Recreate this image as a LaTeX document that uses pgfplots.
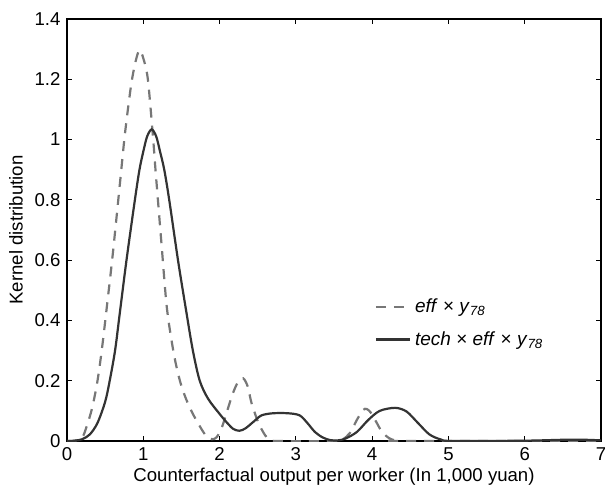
\documentclass[border=0pt]{standalone}
\usepackage{pgfplots}
\pgfplotsset{compat=1.18}
\usepackage{fontspec}
\setmainfont{Liberation Sans}
\definecolor{dashgray}{HTML}{777777}
\definecolor{solidgray}{HTML}{333333}
\begin{document}
\fontsize{9.3}{11}\selectfont
\begin{tikzpicture}
\begin{axis}[
  scale only axis,
  width=267pt, height=211pt,
  xmin=0, xmax=7, ymin=0, ymax=1.4,
  xtick={0,1,...,7}, ytick={0,0.2,...,1.4},
  yticklabels={0,0.2,0.4,0.6,0.8,1,1.2,1.4},
  tick align=inside, major tick length=2.5pt,
  tick style={line width=0.6pt, color=black},
  axis line style={line width=0.6pt},
  /pgf/number format/assume math mode=true,
  tick label style={font=\fontsize{9.3}{11}\selectfont},
  label style={font=\fontsize{9.3}{11}\selectfont},
  xlabel={Counterfactual output per worker (In 1,000 yuan)},
  ylabel={Kernel distribution},
  xlabel style={at={(axis description cs:0.5,-0.0853)}, anchor=center},
  ylabel style={at={(axis description cs:-0.0955,0.5)}, anchor=center},
  legend style={at={(axis cs:3.95,0.5)}, anchor=north west, draw=none, fill=none,
    font=\fontsize{9.5}{11}\selectfont, row sep=4pt},
  legend cell align=left,
]
\addplot[dashgray, line width=1.1pt, dash pattern=on 5pt off 4pt, smooth, tension=0.5] coordinates {
(0,0) (0.1,0.001) (0.2,0.012) (0.26,0.05) (0.33,0.11) (0.4,0.2) (0.46,0.31) (0.52,0.44) (0.6,0.62) (0.7,0.87) (0.76,1.02) (0.84,1.18) (0.9,1.26) (0.95,1.297) (1.0,1.27) (1.06,1.2) (1.13,1.0) (1.16,0.9) (1.24,0.65) (1.31,0.44) (1.4,0.29) (1.48,0.2) (1.56,0.14) (1.65,0.09) (1.75,0.045) (1.83,0.015) (1.9,0.006) (1.96,0.012) (2.03,0.045) (2.1,0.1) (2.17,0.155) (2.24,0.195) (2.31,0.208) (2.37,0.18) (2.42,0.125) (2.51,0.06) (2.6,0.018) (2.66,0.005) (2.75,0) (3.55,0) (3.62,0.006) (3.71,0.027) (3.8,0.07) (3.88,0.103) (3.93,0.106) (3.98,0.095) (4.05,0.065) (4.13,0.03) (4.22,0.01) (4.3,0.002) (4.4,0) (7,0)
};
\addlegendentry{\textit{eff} × \textit{y}\textsubscript{\textit{78}}}
\addplot[solidgray, line width=1.1pt, smooth, tension=0.5] coordinates {
(0,0) (0.1,0.001) (0.2,0.006) (0.3,0.022) (0.4,0.06) (0.5,0.13) (0.56,0.2) (0.63,0.3) (0.69,0.42) (0.78,0.6) (0.89,0.8) (0.95,0.9) (1.0,0.96) (1.05,1.01) (1.11,1.034) (1.17,1.01) (1.22,0.96) (1.275,0.9) (1.34,0.8) (1.455,0.6) (1.56,0.435) (1.65,0.3) (1.74,0.2) (1.85,0.14) (2.0,0.09) (2.1,0.06) (2.18,0.04) (2.26,0.034) (2.34,0.042) (2.45,0.065) (2.55,0.085) (2.7,0.092) (2.9,0.092) (3.05,0.085) (3.15,0.06) (3.25,0.03) (3.35,0.012) (3.45,0.003) (3.55,0.002) (3.65,0.008) (3.8,0.03) (3.95,0.07) (4.1,0.1) (4.3,0.11) (4.45,0.098) (4.6,0.06) (4.75,0.022) (4.9,0.005) (5.05,0) (6,0.001) (6.5,0.004) (6.8,0.004) (7,0.002)
};
\addlegendentry{\textit{tech} × \textit{eff} × \textit{y}\textsubscript{\textit{78}}}
\end{axis}
\pgfresetboundingbox
\useasboundingbox (-33.5pt,-23pt) rectangle (269pt,220.5pt);
\end{tikzpicture}
\end{document}
